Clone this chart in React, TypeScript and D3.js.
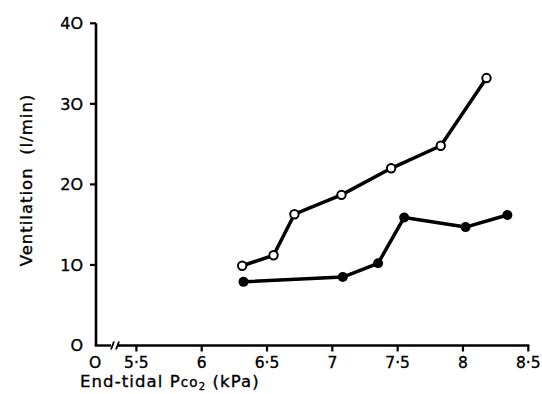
import React from "react";
import * as d3 from "d3";

const xTicks = [5.5, 6, 6.5, 7, 7.5, 8, 8.5];
const xTickLabels = ["5·5", "6", "6·5", "7", "7·5", "8", "8·5"];
const yTicks = [0, 10, 20, 30, 40];
const yTickLabels = ["O", "1O", "2O", "3O", "4O"];

const openX = [6.31, 6.55, 6.71, 7.07, 7.45, 7.83, 8.18];
const openY = [9.9, 11.2, 16.3, 18.7, 22.0, 24.8, 33.2];
const filledX = [6.32, 7.08, 7.35, 7.55, 8.02, 8.34];
const filledY = [7.9, 8.5, 10.2, 15.9, 14.7, 16.2];

const W = 542;
const H = 394;

export default function App() {
  const x = d3.scaleLinear().domain([6, 8.5]).range([201.7, 528.3]);
  const y = d3.scaleLinear().domain([0, 40]).range([345.5, 23.3]);
  const line = d3
    .line<[number, number]>()
    .x((d) => x(d[0]))
    .y((d) => y(d[1]));
  const openPts: [number, number][] = openX.map((v, i) => [v, openY[i]]);
  const filledPts: [number, number][] = filledX.map((v, i) => [v, filledY[i]]);
  const x0 = 96;
  const y0 = y(0);
  const font = "'DejaVu Sans', sans-serif";
  const txt = { fill: "#000", stroke: "#000", strokeWidth: 0.35 };

  return (
    <svg
      width={W}
      height={H}
      style={{ position: "absolute", left: 0, top: 0, background: "#fff" }}
      fontFamily={font}
    >
      {/* y axis */}
      <line x1={x0} y1={y(40)} x2={x0} y2={y0} stroke="#000" strokeWidth={2.6} />
      {yTicks.map((t, i) => (
        <g key={"yt" + i}>
          {t !== 0 && (
            <line x1={x0 - 6} x2={x0} y1={y(t)} y2={y(t)} stroke="#000" strokeWidth={2.2} />
          )}
          <text x={83} y={y(t) + 5.8} textAnchor="end" fontSize={16} {...txt}>
            {yTickLabels[i]}
          </text>
        </g>
      ))}
      {/* x axis with break */}
      <line x1={x0 - 1.3} x2={111} y1={y0} y2={y0} stroke="#000" strokeWidth={2.4} />
      <line x1={111} x2={114} y1={y0 + 4} y2={y0 - 4} stroke="#000" strokeWidth={1.8} />
      <line x1={116} x2={119} y1={y0 + 4} y2={y0 - 4} stroke="#000" strokeWidth={1.8} />
      <line x1={118} x2={x(8.5) + 1} y1={y0} y2={y0} stroke="#000" strokeWidth={2.4} />
      {xTicks.map((t, i) => (
        <g key={"xt" + i}>
          <line x1={x(t)} x2={x(t)} y1={y0} y2={y0 + 6} stroke="#000" strokeWidth={2.2} />
          <text x={x(t)} y={368} textAnchor="middle" fontSize={15.5} {...txt}>
            {xTickLabels[i]}
          </text>
        </g>
      ))}
      <text x={95} y={368} textAnchor="middle" fontSize={15.5} {...txt}>
        O
      </text>
      {/* axis titles */}
      <text x={80} y={387} fontSize={16.5} letterSpacing={1.1} {...txt} style={{ whiteSpace: "pre" }}>
        <tspan>{"End-tidal P"}</tspan>
        <tspan fontSize={13.5}>co</tspan>
        <tspan fontSize={10} dy={3}>2</tspan>
        <tspan dy={-3}>{" (kPa)"}</tspan>
      </text>
      <text
        transform={`translate(32,${180}) rotate(-90)`}
        textAnchor="middle"
        fontSize={16.5}
        letterSpacing={1}
        {...txt}
        style={{ whiteSpace: "pre" }}
      >
        {"Ventilation  (l/min)"}
      </text>
      {/* series */}
      <path d={line(openPts) || ""} fill="none" stroke="#000" strokeWidth={3.5} strokeLinejoin="round" />
      <path d={line(filledPts) || ""} fill="none" stroke="#000" strokeWidth={3.5} strokeLinejoin="round" />
      {openPts.map((d, i) => (
        <circle key={"o" + i} cx={x(d[0])} cy={y(d[1])} r={4.2} fill="#fff" stroke="#000" strokeWidth={2} />
      ))}
      {filledPts.map((d, i) => (
        <circle key={"f" + i} cx={x(d[0])} cy={y(d[1])} r={5} fill="#000" />
      ))}
    </svg>
  );
}
